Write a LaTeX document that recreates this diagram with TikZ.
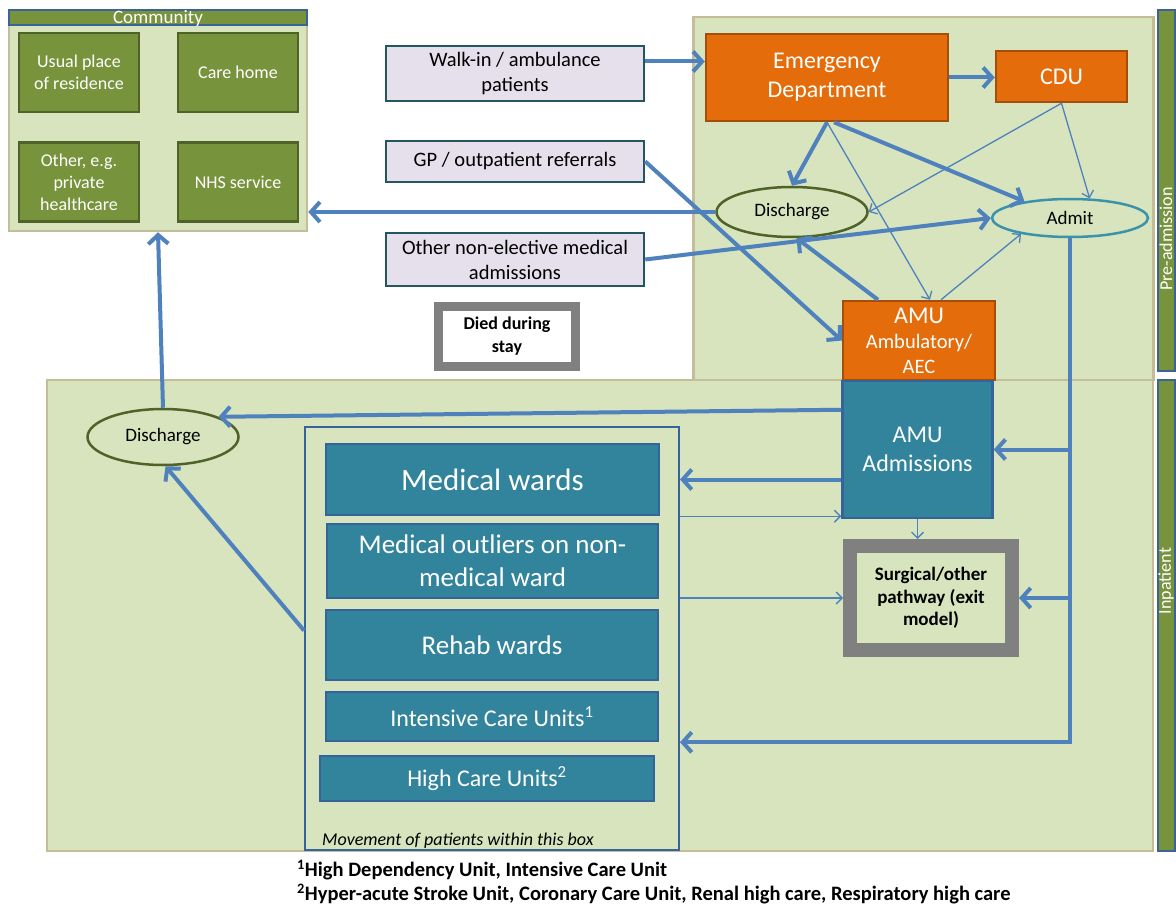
\documentclass[tikz,border=0pt]{standalone}
\usepackage{fontspec}
\setmainfont{Carlito}
\usetikzlibrary{arrows.meta, positioning, shapes.geometric, calc}
\definecolor{paleg}{HTML}{D7E4BD}
\definecolor{tanline}{HTML}{C4BD97}
\definecolor{olive}{HTML}{77933C}
\definecolor{olivedk}{HTML}{4F6228}
\definecolor{barblue}{HTML}{3B6397}
\definecolor{lavender}{HTML}{E5E0EC}
\definecolor{srcline}{HTML}{24565F}
\definecolor{edorange}{HTML}{E46C0A}
\definecolor{orangedk}{HTML}{A34F0B}
\definecolor{tealbox}{HTML}{31849B}
\definecolor{wardline}{HTML}{36639A}
\definecolor{arrowblue}{HTML}{4F81BD}
\definecolor{greyline}{HTML}{808080}
\definecolor{admitline}{HTML}{3A93AB}

\begin{document}
\begin{tikzpicture}[x=1pt, y=-1pt, font=\fontsize{20}{24}\selectfont]
        \tikzset{
        region/.style    = {draw=tanline, line width=2.5pt, fill=paleg, inner sep=0pt},
        titlebar/.style  = {draw=barblue, line width=2pt, fill=olive, inner sep=0pt},
        placebox/.style  = {draw=olivedk, line width=2.5pt, fill=olive, text=white, align=center, inner sep=1pt,
                            minimum width=120pt, minimum height=79pt, font=\fontsize{18}{22}\selectfont},
        source/.style    = {draw=srcline, line width=2.5pt, fill=lavender, align=center, inner sep=2pt, minimum width=258pt},
        orangebox/.style = {draw=orangedk, line width=2.5pt, fill=edorange, text=white, align=center, inner sep=1pt},
        wardbox/.style   = {draw=wardline, line width=2.5pt, fill=tealbox, text=white, align=center, inner sep=1pt},
        exitbox/.style   = {draw=greyline, align=center, inner sep=1pt, font=\bfseries\fontsize{19}{22.5}\selectfont},
        outnode/.style   = {draw=olivedk, line width=2.5pt, fill=paleg, ellipse, inner sep=0pt, font=\fontsize{19}{22}\selectfont},
        innode/.style    = {draw=admitline, line width=2.5pt, fill=paleg, ellipse, inner sep=0pt, font=\fontsize{19}{22}\selectfont},
        sidebar/.style   = {draw=barblue, line width=2pt, fill=olive, inner sep=0pt, minimum width=17pt},
        sidetext/.style  = {text=white, inner sep=0pt, font=\fontsize{18}{20}\selectfont},
        flow/.style      = {draw=arrowblue, line width=4pt, -{Straight Barb[length=9pt, width=20pt]}},
        thinflow/.style  = {draw=arrowblue, line width=1.3pt, -{Straight Barb[length=6pt, width=12pt]}}
        }
        \useasboundingbox (0,0) rectangle (1176,907);
        \fill[white] (0,0) rectangle (1176,907);

        % Regions
        \node[region, minimum width=298pt, minimum height=220pt] (community) at (158,121) {};
        \node[region, minimum width=460pt, minimum height=363pt] (preadm) at (923.5,198.5) {};
        \node[region, minimum width=1106pt, minimum height=471pt] (inpat) at (600,615.5) {};
        \node[titlebar, minimum width=298pt, minimum height=15pt] (combar) at (158,18) {};
        \node[text=white, inner sep=0pt, font=\fontsize{19}{22}\selectfont] at (combar) {Community};
        \node[sidebar, minimum height=361pt] (prebar) at (1166,190.5) {};
        \node[sidetext, rotate=90] at (1166,239) {Pre-admission};
        \node[sidebar, minimum height=471pt] (inbar) at (1166,615) {};
        \node[sidetext, rotate=90] at (1166,581) {Inpatient};

        % Community places
        \node[placebox] (usual) at (79,72.5) {Usual place\\of residence};
        \node[placebox] (carehome) at (238,72.5) {Care home};
        \node[placebox] (otherplace) at (79,182) {Other, e.g.\\private\\healthcare};
        \node[placebox] (nhs) at (238,182) {NHS service};

        % Sources of patients
        \node[source, minimum height=55pt, font=\fontsize{20.5}{25}\selectfont] (walkin) at (515,73.5) {Walk-in / ambulance\\patients};
        \node[source, minimum height=41pt, font=\fontsize{20.5}{25}\selectfont] (gp) at (515,161.5) {GP / outpatient referrals};
        \node[source, minimum height=53pt, font=\fontsize{20.5}{25}\selectfont] (othernel) at (515,259.5) {Other non-elective medical\\admissions};
        \node[exitbox, fill=white, line width=9pt, minimum width=137pt, minimum height=60pt,
              font=\bfseries\fontsize{18}{23}\selectfont] (died) at (507,336.5) {Died during\\stay};

        % Pre-admission
        \node[orangebox, minimum width=242pt, minimum height=87pt, font=\fontsize{24}{29}\selectfont] (ed) at (827,77.5) {Emergency\\Department};
        \node[orangebox, minimum width=131pt, minimum height=51pt, font=\fontsize{24}{29}\selectfont] (cdu) at (1061.5,76.5) {CDU};
        \node[outnode, minimum width=151pt, minimum height=50pt] (disc1) at (792,212) {Discharge};
        \node[innode, minimum width=156pt, minimum height=38pt] (admit) at (1070,218) {Admit};
        \node[orangebox, minimum width=152pt, minimum height=79pt, inner sep=0pt, font=\fontsize{20.5}{25}\selectfont] (amb) at (919,340.5)
              {{\fontsize{24}{25}\selectfont AMU}\\Ambulatory/\\AEC};

        % Inpatient
        \node[wardbox, minimum width=150pt, minimum height=137pt, font=\fontsize{24}{29}\selectfont] (amuadm) at (917.5,449.5) {AMU\\Admissions};
        \node[exitbox, fill=paleg, line width=14pt, minimum width=162pt, minimum height=104pt] (surgical) at (931,598) {Surgical/other\\pathway (exit\\model)};
        \node[outnode, minimum width=151pt, minimum height=56pt] (disc2) at (163,437) {Discharge};
        \node[draw=wardline, line width=2pt, minimum width=374pt, minimum height=423pt] (movebox) at (492,638.5) {};
        \node[wardbox, minimum width=333pt, minimum height=71pt, font=\fontsize{31}{37}\selectfont] (medward) at (492.5,479.5) {Medical wards};
        \node[wardbox, minimum width=331pt, minimum height=74pt, font=\fontsize{27}{33}\selectfont] (outlier) at (492.5,561) {Medical outliers on non-\\medical ward};
        \node[wardbox, minimum width=332pt, minimum height=70pt, font=\fontsize{27}{33}\selectfont] (rehab) at (492,645) {Rehab wards};
        \node[wardbox, minimum width=332pt, minimum height=49pt, font=\fontsize{24}{29}\selectfont] (icu) at (492,716.5) {Intensive Care Units\textsuperscript{1}};
        \node[wardbox, minimum width=334pt, minimum height=45pt, font=\fontsize{24}{29}\selectfont] (hcu) at (487,778.5) {High Care Units\textsuperscript{2}};
        \node[anchor=west, inner sep=0pt, font=\itshape\fontsize{18}{22}\selectfont] (movenote) at (322,841) {Movement of patients within this box};

        % Footnotes
        \node[anchor=west, inner sep=0pt, font=\bfseries\fontsize{20.5}{23}\selectfont] (note1) at (297,870) {\textsuperscript{1}High Dependency Unit, Intensive Care Unit};
        \node[anchor=west, inner sep=0pt, font=\bfseries\fontsize{20.5}{23}\selectfont] (note2) at (297,894) {\textsuperscript{2}Hyper-acute Stroke Unit, Coronary Care Unit, Renal high care, Respiratory high care};

        % Arrivals
        \draw[flow] ($(walkin.east)+(0,-12)$) -- ($(ed.west)+(0,-16)$);
        \draw[flow] (ed.east) -- (ed.east -| cdu.west);
        \draw[flow] (gp.east) -- (amb.west);
        \draw[flow] (othernel.east) -- (admit.west);

        % Out of ED, CDU and ambulatory care
        \draw[flow] (ed.south) -- (disc1.north);
        \draw[flow] ($(ed.south)+(7,0)$) -- (admit.160);
        \draw[thinflow] (ed.south) -- ($(amb.north)+(11,0)$);
        \draw[thinflow] (cdu.south) -- (disc1.east);
        \draw[thinflow] (cdu.south) -- (admit.45);
        \draw[thinflow] ($(amb.north)+(22,0)$) -- (admit.198);
        \draw[flow] ($(amb.north)+(-41,0)$) -- (disc1.-80);

        % Discharges
        \draw[flow] (disc1.west) -- (disc1.west -| community.east);
        \draw[flow] ($(amuadm.north west)+(0,30)$) -- (disc2.20);
        \draw[flow] ($(movebox.west)+(0,-8)$) -- (disc2.-85);
        \draw[flow] (disc2.north) -- (community.south);

        % Admissions
        \draw[flow] (admit.south) |- (movebox.east |- icu.south);
        \draw[flow] (admit.south |- amuadm.east) -- (amuadm.east);
        \draw[flow] (admit.south |- surgical.east) -- (surgical.east);
        \draw[flow] (amuadm.west |- medward.center) -- (movebox.east |- medward.center);
        \draw[thinflow] (movebox.east |- medward.south) -- (amuadm.west |- medward.south);
        \draw[thinflow] (movebox.east |- surgical.west) -- (surgical.west);
        \draw[thinflow] (amuadm.south) -- (amuadm.south |- surgical.north);
    \end{tikzpicture}
\end{document}
